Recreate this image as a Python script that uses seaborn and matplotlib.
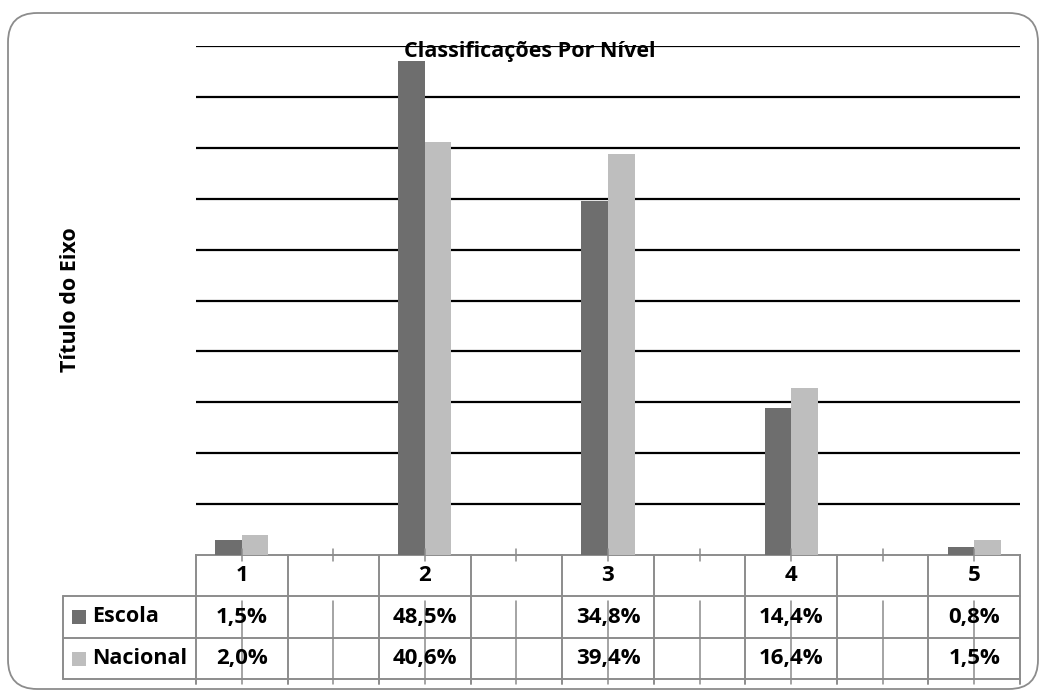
import numpy as np
import pandas as pd
import seaborn as sns
import matplotlib
matplotlib.use("Agg")
import matplotlib.pyplot as plt
import matplotlib.transforms as mtransforms
from matplotlib.patches import FancyBboxPatch, Rectangle
from matplotlib.lines import Line2D

# ---- data ----
niveis = ["1", "2", "3", "4", "5"]
series = ["Escola", "Nacional"]
escola = [1.5, 48.5, 34.8, 14.4, 0.8]
nacional = [2.0, 40.6, 39.4, 16.4, 1.5]
cores = {"Escola": "#6e6e6e", "Nacional": "#bebebe"}
titulo = "Classificações Por Nível"
titulo_eixo = "Título do Eixo"

df = pd.DataFrame({
    "nivel": niveis * 2,
    "serie": ["Escola"] * len(niveis) + ["Nacional"] * len(niveis),
    "valor": escola + nacional,
})

# empty slots between the levels, as in the data table
ordem = []
for i, n in enumerate(niveis):
    ordem.append(n)
    if i < len(niveis) - 1:
        ordem.append(f"_vazio{i}")

W, H = 1041, 691
sns.set_theme(style="white")
plt.rcParams["font.family"] = ["Open Sans", "DejaVu Sans"]

fig = plt.figure(figsize=(W / 100, H / 100), dpi=100)
fig.patch.set_facecolor("white")

def fy(py):
    return 1 - py / H

ax_l, ax_r, ax_t, ax_b = 196, 1020, 46, 555
ax = fig.add_axes([ax_l / W, fy(ax_b), (ax_r - ax_l) / W, (ax_b - ax_t) / H])

sns.barplot(data=df, x="nivel", y="valor", hue="serie", order=ordem,
            hue_order=series, palette=cores, width=0.58, gap=0,
            saturation=1, ax=ax, legend=False, zorder=3, linewidth=0)

ax.set_xlim(-0.5, len(ordem) - 0.5)
ax.set_ylim(0, 50)
for v in np.arange(5, 55, 5):
    ax.axhline(v, color="black", lw=1.6, zorder=1)

for s in ["left", "right", "top"]:
    ax.spines[s].set_visible(False)
ax.spines["bottom"].set_color("#8c8c8c")
ax.spines["bottom"].set_linewidth(1.4)
ax.set_xticks([])
ax.set_yticks([])
ax.set_xlabel("")
ax.set_ylabel("")

# title and axis title
fig.text(530 / W, fy(51), titulo, ha="center", va="center",
         fontsize=15.5, fontweight="bold", color="black")
fig.text(70 / W, fy(300), titulo_eixo, ha="center", va="center",
         rotation=90, fontsize=15.5, fontweight="bold", color="black")

# ---- data table ----
tcol = "#8c8c8c"
tdata = mtransforms.blended_transform_factory(ax.transData, fig.transFigure)
taxes = mtransforms.blended_transform_factory(ax.transAxes, fig.transFigure)
y_cat, y_esc, y_nac, y_end = 555, 596, 638, 679
leg_left = (63 - ax_l) / (ax_r - ax_l)

def hline(y, x0, x1):
    fig.add_artist(Line2D([x0, x1], [fy(y), fy(y)], transform=taxes,
                          color=tcol, lw=1.4, clip_on=False, zorder=2))

def vline(x, y0, y1, trans, lw=1.4):
    fig.add_artist(Line2D([x, x], [fy(y0), fy(y1)], transform=trans,
                          color=tcol, lw=lw, clip_on=False, zorder=2))

for y in (y_esc, y_nac, y_end):
    hline(y, leg_left, 1)
vline(leg_left, y_esc, y_end, taxes)
for k in range(len(ordem) + 1):
    vline(k - 0.5, y_cat, y_end + 5, tdata)
for k in range(len(ordem)):
    vline(k, 549, 561, tdata, lw=1.1)
    vline(k, 601, y_end + 5, tdata, lw=1.1)

def fmt(v):
    return f"{v:.1f}%".replace(".", ",")

txt_kw = dict(ha="center", va="center", fontsize=16, fontweight="bold",
              color="black", transform=tdata, zorder=4)
for n in niveis:
    k = ordem.index(n)
    fig.text(k, fy((y_cat + y_esc) / 2), n, **txt_kw)
for n, ve, vn in zip(niveis, escola, nacional):
    k = ordem.index(n)
    fig.text(k, fy((y_esc + y_nac) / 2), fmt(ve), **txt_kw)
    fig.text(k, fy((y_nac + y_end) / 2), fmt(vn), **txt_kw)

for s, (y0, y1) in zip(series, [(y_esc, y_nac), (y_nac, y_end)]):
    yc = (y0 + y1) / 2
    fig.add_artist(Rectangle((72 / W, fy(yc + 7)), 14 / W, 14 / H,
                             transform=fig.transFigure, facecolor=cores[s],
                             edgecolor="none"))
    fig.text(92 / W, fy(yc), s, ha="left", va="center", fontsize=15.5,
             fontweight="bold", color="black")

# rounded chart border
fig.add_artist(FancyBboxPatch((8 / W, fy(689)), 1030 / W, 676 / H,
                              boxstyle="round,pad=0,rounding_size=0.028",
                              transform=fig.transFigure, facecolor="none",
                              edgecolor="#8c8c8c", lw=1.3, zorder=0,
                              mutation_aspect=W / H))

fig.savefig("out.png", dpi=100)
